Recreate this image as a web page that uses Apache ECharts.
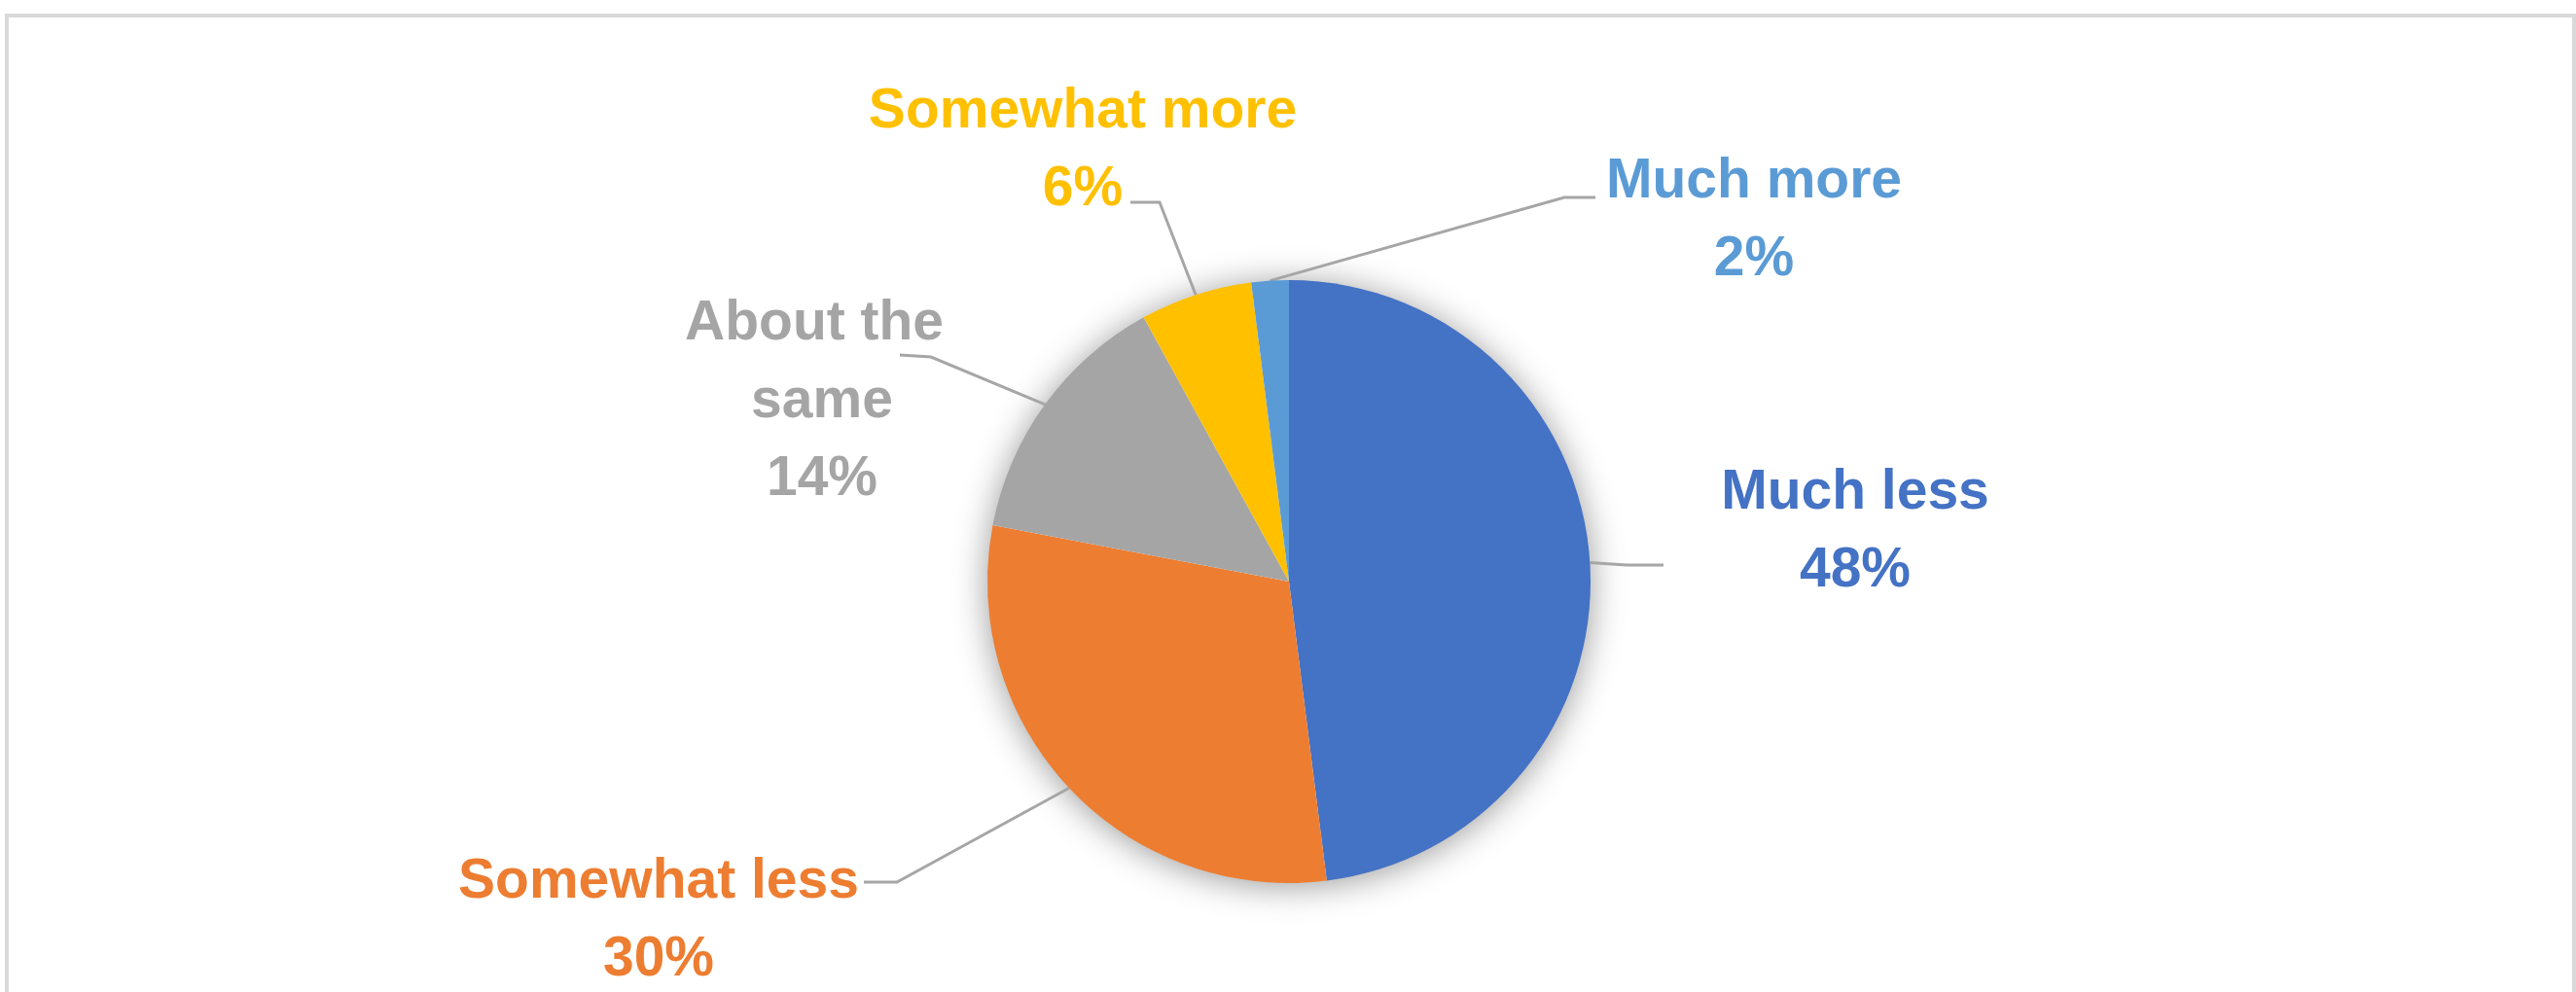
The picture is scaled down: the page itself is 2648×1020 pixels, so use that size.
<!DOCTYPE html>
<html>
<head>
<meta charset="utf-8">
<script src="https://cdn.jsdelivr.net/npm/echarts@6/dist/echarts.min.js"></script>
<style>
  html, body { margin: 0; padding: 0; background: #ffffff; overflow: hidden; }
  #frame { position: absolute; left: 5px; top: 14px; width: 2643px; height: 1100px; border: 4px solid #d9d9d9; box-sizing: border-box; }
  #chart { position: absolute; left: 0; top: 0; width: 2648px; height: 1020px; }
</style>
</head>
<body>
<div id="frame"></div>
<div id="chart"></div>
<script>
// ---- data ----
const categories = ['Much less', 'Somewhat less', 'About the same', 'Somewhat more', 'Much more'];
const values = [48, 30, 14, 6, 2];
const colors = ['#4472C4', '#ED7D31', '#A5A5A5', '#FFC000', '#5B9BD5'];

// ---- label layout (px, page coordinates) ----
const labelAnchors = [[1907, 547], [677, 947], [845, 413], [1113, 155], [1803, 227]];
const leaderBends  = [[1672, 581], [922, 907], [957, 367], [1192, 208], [1608, 203]];
const leaderEnds   = [[1710, 581], [888, 907], [925, 365], [1162, 208], [1640, 203]];

const PIE_CENTER = [1325, 598];
const PIE_RADIUS = 310;

const chart = echarts.init(document.getElementById('chart'), null, { renderer: 'canvas' });

const pieData = categories.map((name, i) => ({
  name: name,
  value: values[i],
  itemStyle: { color: colors[i] },
  label: Object.assign({ color: colors[i] }, name === 'About the same' ? { width: 300, overflow: 'break' } : {})
}));

chart.setOption({
  backgroundColor: 'transparent',
  animation: false,
  series: [
    {
      // soft shadow underlay
      type: 'pie',
      silent: true,
      z: 1,
      center: PIE_CENTER,
      radius: PIE_RADIUS - 1,
      label: { show: false },
      labelLine: { show: false },
      itemStyle: { color: '#ffffff', shadowBlur: 36, shadowColor: 'rgba(0,0,0,0.42)', shadowOffsetY: 3 },
      data: [{ value: 1, name: '' }]
    },
    {
      type: 'pie',
      z: 2,
      center: PIE_CENTER,
      radius: PIE_RADIUS,
      startAngle: 90,
      clockwise: true,
      avoidLabelOverlap: false,
      itemStyle: { borderWidth: 0 },
      label: {
        show: true,
        position: 'outside',
        formatter: '{b}\n{c}%',
        fontFamily: 'Liberation Sans',
        fontSize: 57,
        fontWeight: 'bold',
        lineHeight: 80
      },
      labelLine: { show: true, lineStyle: { color: '#a6a6a6', width: 3 } },
      labelLayout: function (params) {
        const i = params.dataIndex;
        const start = params.labelLinePoints ? params.labelLinePoints[0] : leaderBends[i];
        return {
          x: labelAnchors[i][0],
          y: labelAnchors[i][1],
          align: 'center',
          verticalAlign: 'middle',
          labelLinePoints: [start, leaderBends[i], leaderEnds[i]]
        };
      },
      data: pieData
    }
  ]
});
</script>
</body>
</html>
